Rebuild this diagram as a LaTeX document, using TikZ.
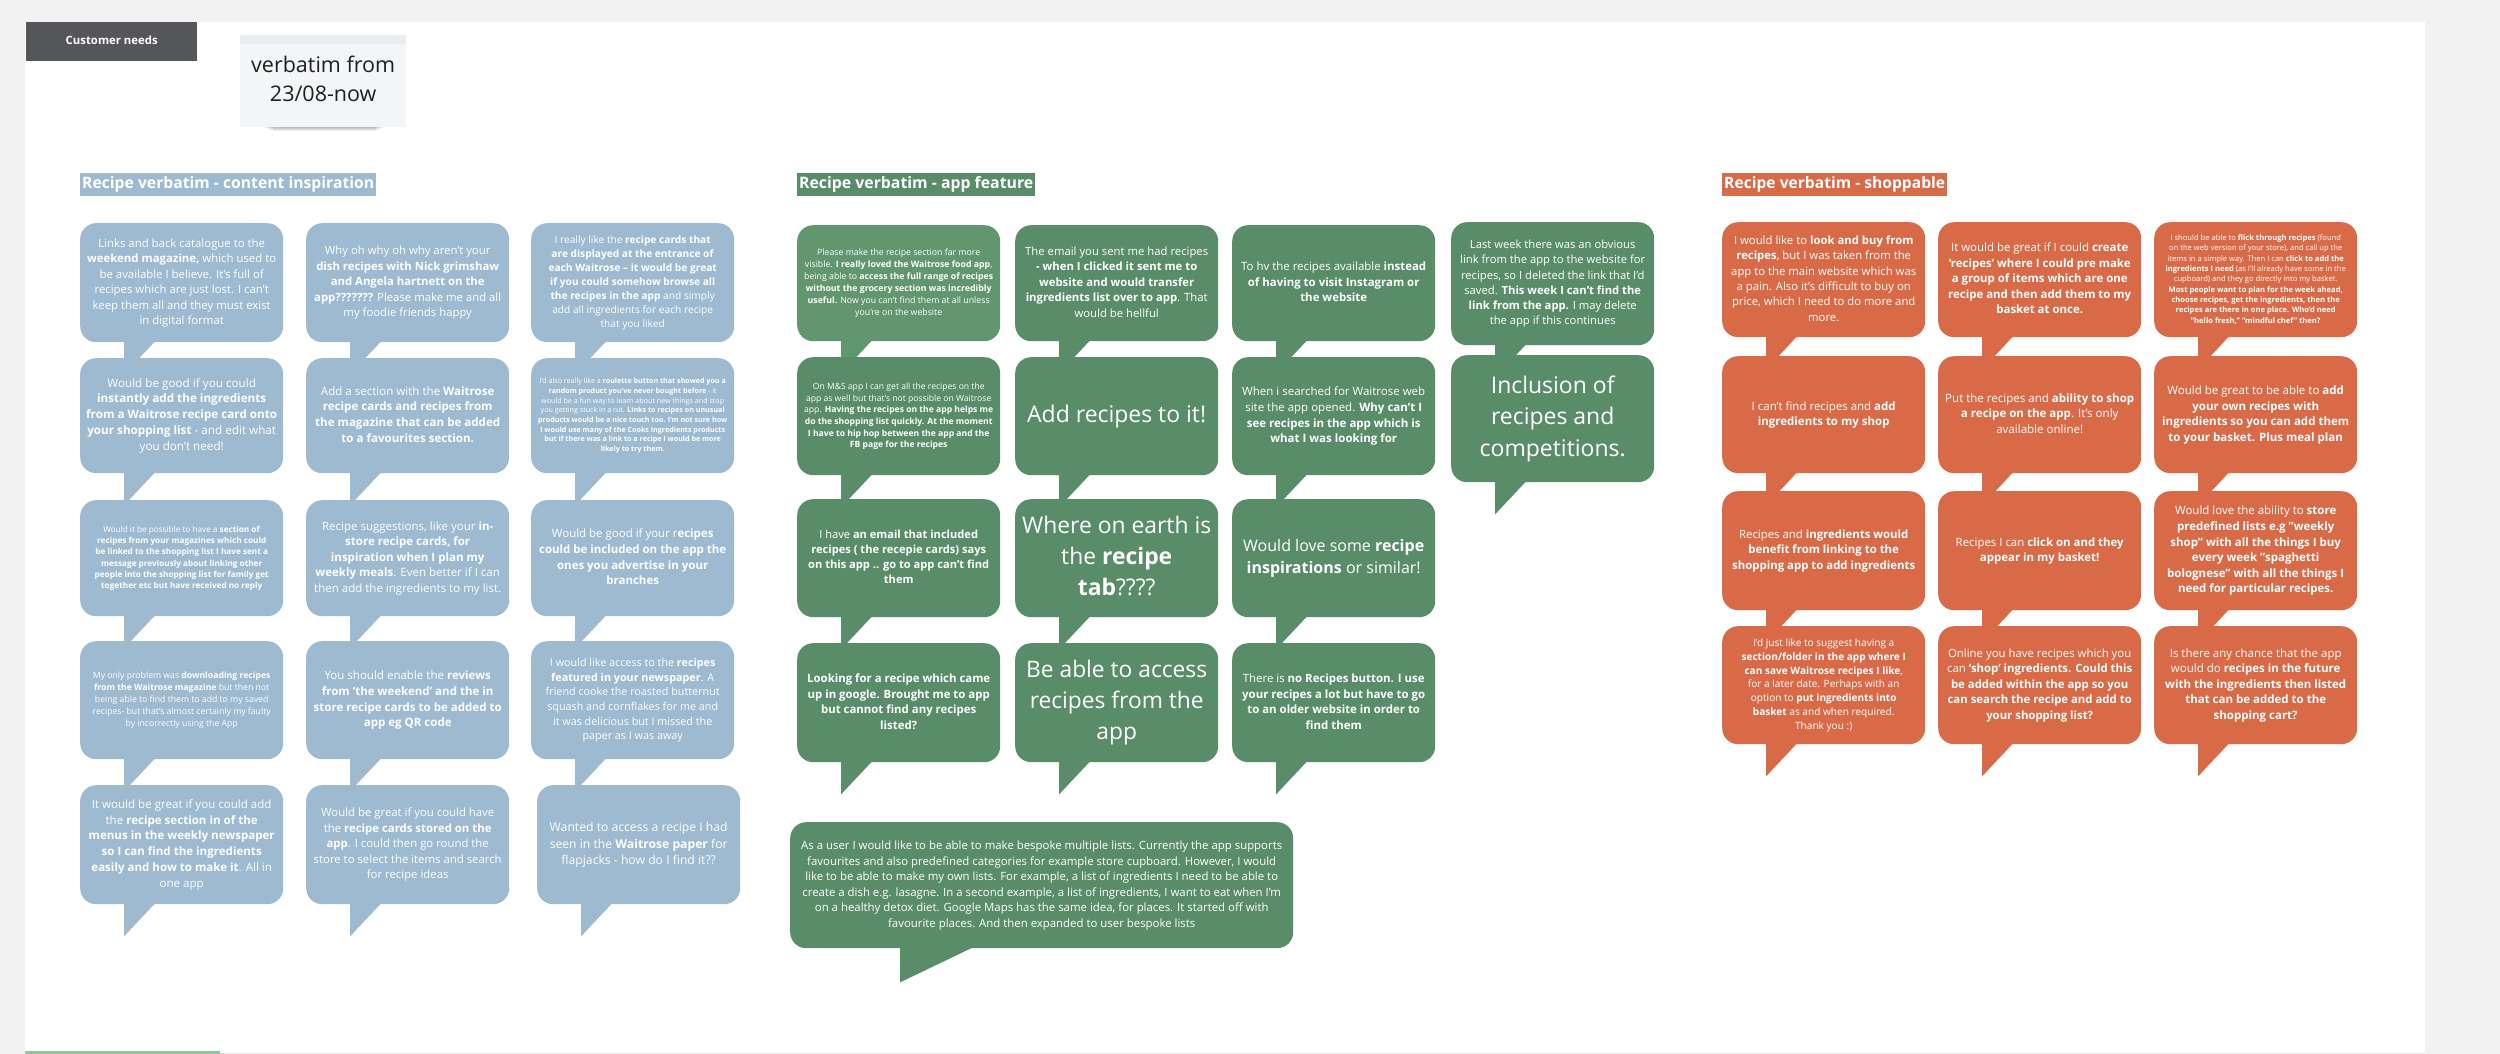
\documentclass[tikz,border=0pt]{standalone}
\usepackage{fontspec}
\setmainfont{Open Sans}
\usepackage{graphicx}

\definecolor{bblue}{HTML}{9EBAD0}
\definecolor{ggreen}{HTML}{598C68}
\definecolor{glight}{HTML}{62966F}
\definecolor{oorange}{HTML}{D96A48}
\definecolor{cdark}{HTML}{55565A}
\definecolor{pagegrey}{HTML}{F2F2F2}
\definecolor{notefill}{HTML}{F4F5F7}
\definecolor{lgreen}{HTML}{8DC89B}

\newsavebox\fitbox
\newdimen\fitwd
\newdimen\fitht
\newcommand\fitlines[3]{%
  \sbox\fitbox{\fontsize{10}{13.6}\selectfont\begin{tabular}{@{}c@{}}#3\end{tabular}}%
  \fitwd=\wd\fitbox\relax
  \fitht=\dimexpr\ht\fitbox+\dp\fitbox\relax
  \scalebox{\fpeval{min((#1)/\fitwd,(#2)/\fitht)}}{\usebox\fitbox}}
\newcommand\B[1]{\textbf{#1}}

\tikzset{
  bubble/.style={rounded corners=16pt, minimum width=203pt, anchor=north west, inner sep=0pt, text=white},
  hdr/.style={anchor=west, inner xsep=2pt, inner ysep=0pt, minimum height=23pt, text=white},
}
\newcommand\bub[7]{%
  \node[bubble, fill=#5, minimum height=#4pt] (#1) at (#2,#3) {\fitlines{#6}{#4-22}{#7}};
  \fill[#5] ([xshift=44pt,yshift=2pt]#1.south west) -- ++(32pt,0pt) -- ++(-32pt,-34pt) -- cycle;}

\begin{document}
\begin{tikzpicture}[x=1pt,y=-1pt]
\useasboundingbox (0,0) rectangle (2500,1054);
\fill[pagegrey] (0,0) rectangle (2500,1054);
\fill[white] (25,22) rectangle (2425,1054);
\draw[line width=2.5pt, lgreen] (25,1052.5) -- (220,1052.5);
\draw[line width=1pt, black!12] (220,1053) -- (2425,1053);

% title box
\node[fill=cdark, minimum width=171pt, minimum height=39pt, anchor=north west, inner sep=0pt, text=white] (cn) at (26,22) {\fitlines{92}{20}{\B{Customer needs}}};

% sticky note with shadow
\foreach \i in {0,...,9} {
  \fill[black, opacity=0.07] (250+\i*2.5, 116) rectangle (398-\i*2.5, 122+\i*1.0);
}
\node[fill=notefill, minimum width=166pt, minimum height=92pt, anchor=north west, inner sep=0pt, text=black!88] (note) at (240,35) {\fitlines{144}{70}{verbatim from\\23/08-now}};
\fill[black, opacity=0.035] (240,35) rectangle (406,44);

% headers
\node[hdr, fill=bblue] (h1) at (80,184.5) {\fitlines{292}{30}{\B{Recipe verbatim - content inspiration}}};
\node[hdr, fill=ggreen] (h2) at (797,184.5) {\fitlines{234}{30}{\B{Recipe verbatim - app feature}}};
\node[hdr, fill=oorange] (h3) at (1722,184.5) {\fitlines{221}{30}{\B{Recipe verbatim - shoppable}}};

% ---------- blue column 1
\bub{b11}{80}{223}{119}{bblue}{189}{Links and back catalogue to the\\ \B{weekend magazine,} which used to\\ be available I believe. It's full of\\ recipes which are just lost. I can't\\ keep them all and they must exist\\ in digital format}
\bub{b12}{80}{358}{115}{bblue}{191}{Would be good if you could\\ \B{instantly add the ingredients}\\ \B{from a Waitrose recipe card onto}\\ \B{your shopping list} - and edit what\\ you don’t need!}
\bub{b13}{80}{500}{116}{bblue}{174}{Would it be possible to have a \B{section of}\\ \B{recipes from your magazines which could}\\ \B{be linked to the shopping list I have sent a}\\ \B{message previously about linking other}\\ \B{people into the shopping list for family get}\\ \B{together etc but have received no reply}}
\bub{b14}{80}{641}{118}{bblue}{178}{My only problem was \B{downloading recipes}\\ \B{from the Waitrose magazine} but then not\\ being able to find them to add to my saved\\ recipes- but that’s almost certainly my faulty\\ by incorrectly using the App}
\bub{b15}{80}{785}{119}{bblue}{186}{It would be great if you could add\\ the \B{recipe section in of the}\\ \B{menus in the weekly newspaper}\\ \B{so I can find the ingredients}\\ \B{easily and how to make it}. All in\\ one app}

% ---------- blue column 2
\bub{b21}{306}{223}{119}{bblue}{187}{Why oh why oh why aren’t your\\ \B{dish recipes with Nick grimshaw}\\ \B{and Angela hartnett on the}\\ \B{app???????} Please make me and all\\ my foodie friends happy}
\bub{b22}{306}{358}{115}{bblue}{185}{Add a section with the \B{Waitrose}\\ \B{recipe cards and recipes from}\\ \B{the magazine that can be added}\\ \B{to a favourites section.}}
\bub{b23}{306}{500}{116}{bblue}{187}{Recipe suggestions, like your \B{in-}\\ \B{store recipe cards, for}\\ \B{inspiration when I plan my}\\ \B{weekly meals}. Even better if I can\\ then add the ingredients to my list.}
\bub{b24}{306}{641}{118}{bblue}{188}{You should enable the \B{reviews}\\ \B{from ‘the weekend’ and the in}\\ \B{store recipe cards to be added to}\\ \B{app eg QR code}}
\bub{b25}{306}{785}{119}{bblue}{188}{Would be great if you could have\\ the \B{recipe cards stored on the}\\ \B{app}. I could then go round the\\ store to select the items and search\\ for recipe ideas}

% ---------- blue column 3
\bub{b31}{531}{223}{119}{bblue}{189}{I really like the \B{recipe cards that}\\ \B{are displayed at the entrance of}\\ \B{each Waitrose – it would be great}\\ \B{if you could somehow browse all}\\ \B{the recipes in the app} and simply\\ add all ingredients for each recipe\\ that you liked}
\bub{b32}{531}{358}{115}{bblue}{189}{I'd also really like a \B{roulette button that showed you a}\\ \B{random product you've never bought before} - it\\ would be a fun way to learn about new things and stop\\ you getting stuck in a rut. \B{Links to recipes on unusual}\\ \B{products would be a nice touch too. I'm not sure how}\\ \B{I would use many of the Cooks Ingredients products}\\ \B{but if there was a link to a recipe I would be more}\\ \B{likely to try them.}}
\bub{b33}{531}{500}{116}{bblue}{187}{Would be good if your r\B{ecipes}\\ \B{could be included on the app the}\\ \B{ones you advertise in your}\\ \B{branches}}
\bub{b34}{531}{641}{118}{bblue}{174}{I would like access to the \B{recipes}\\ \B{featured in your newspaper}. A\\ friend cooke the roasted butternut\\ squash and cornflakes for me and\\ it was delicious but I missed the\\ paper as I was away}
\bub{b35}{537}{785}{119}{bblue}{178}{Wanted to access a recipe I had\\ seen in the \B{Waitrose paper} for\\ flapjacks - how do I find it??}

% ---------- green column 1
\bub{g11}{797}{225}{116}{glight}{189}{Please make the recipe section far more\\ visible. \B{I really loved the Waitrose food app},\\ being able to \B{access the full range of recipes}\\ \B{without the grocery section was incredibly}\\ \B{useful.} Now you can't find them at all unless\\ you're on the website}
\bub{g12}{797}{357}{118}{ggreen}{189}{On M\&S app I can get all the recipes on the\\ app as well but that's not possible on Waitrose\\ app. \B{Having the recipes on the app helps me}\\ \B{do the shopping list quickly. At the moment}\\ \B{I have to hip hop between the app and the}\\ \B{FB page for the recipes}}
\bub{g13}{797}{499}{118}{ggreen}{181}{I have \B{an email that included}\\ \B{recipes ( the recepie cards) says}\\ \B{on this app .. go to app can’t find}\\ \B{them}}
\bub{g14}{797}{643}{119}{ggreen}{183}{\B{Looking for a recipe which came}\\ \B{up in google. Brought me to app}\\ \B{but cannot find any recipes}\\ \B{listed?}}

% ---------- green column 2
\bub{g21}{1015}{225}{116}{ggreen}{183}{The email you sent me had recipes\\ \B{- when I clicked it sent me to}\\ \B{website and would transfer}\\ \B{ingredients list over to app}. That\\ would be hellful}
\bub{g22}{1015}{357}{118}{ggreen}{179}{Add recipes to it!}
\bub{g23}{1015}{499}{118}{ggreen}{189}{Where on earth is\\ the \B{recipe}\\ \B{tab}????}
\bub{g24}{1015}{643}{119}{ggreen}{181}{Be able to access\\ recipes from the\\ app}

% ---------- green column 3
\bub{g31}{1232}{225}{116}{ggreen}{185}{To hv the recipes available \B{instead}\\ \B{of having to visit Instagram or}\\ \B{the website}}
\bub{g32}{1232}{357}{118}{ggreen}{183}{When i searched for Waitrose web\\ site the app opened. \B{Why can't I}\\ \B{see recipes in the app which is}\\ \B{what I was looking for}}
\bub{g33}{1232}{499}{118}{ggreen}{181}{Would love some \B{recipe}\\ \B{inspirations} or similar!}
\bub{g34}{1232}{643}{119}{ggreen}{183}{There is \B{no Recipes button. I use}\\ \B{your recipes a lot but have to go}\\ \B{to an older website in order to}\\ \B{find them}}

% ---------- green column 4
\bub{g41}{1451}{222}{123}{ggreen}{185}{Last week there was an obvious\\ link from the app to the website for\\ recipes, so I deleted the link that I'd\\ saved. \B{This week I can't find the}\\ \B{link from the app.} I may delete\\ the app if this continues}
\bub{g42}{1451}{355}{127}{ggreen}{146}{Inclusion of\\ recipes and\\ competitions.}

% ---------- wide green bubble
\node[bubble, fill=ggreen, minimum width=503pt, minimum height=126pt] (gw) at (790,822) {\fitlines{481}{104}{As a user I would like to be able to make bespoke multiple lists. Currently the app supports\\ favourites and also predefined categories for example store cupboard. However, I would\\ like to be able to make my own lists. For example, a list of ingredients I need to be able to\\ create a dish e.g. lasagne. In a second example, a list of ingredients, I want to eat when I’m\\ on a healthy detox diet. Google Maps has the same idea, for places. It started off with\\ favourite places. And then expanded to user bespoke lists}};
\fill[ggreen] ([xshift=110pt,yshift=2pt]gw.south west) -- ++(75pt,0pt) -- ++(-75pt,-36pt) -- cycle;

% ---------- orange column 1
\bub{o11}{1722}{222}{115}{oorange}{185}{I would like to \B{look and buy from}\\ \B{recipes}, but I was taken from the\\ app to the main website which was\\ a pain. Also it’s difficult to buy on\\ price, which I need to do more and\\ more.}
\bub{o12}{1722}{356}{117}{oorange}{144}{I can't find recipes and \B{add}\\ \B{ingredients to my shop}}
\bub{o13}{1722}{491}{119}{oorange}{183}{Recipes and \B{ingredients would}\\ \B{benefit from linking to the}\\ \B{shopping app to add ingredients}}
\bub{o14}{1722}{626}{118}{oorange}{187}{I’d just like to suggest having a\\ \B{section/folder in the app where I}\\ \B{can save Waitrose recipes I like},\\ for a later date. Perhaps with an\\ option to \B{put ingredients into}\\ \B{basket} as and when required.\\ Thank you :)}

% ---------- orange column 2
\bub{o21}{1938}{222}{115}{oorange}{183}{It would be great if I could \B{create}\\ \B{‘recipes’ where I could pre make}\\ \B{a group of items which are one}\\ \B{recipe and then add them to my}\\ \B{basket at once.}}
\bub{o22}{1938}{356}{117}{oorange}{189}{Put the recipes and \B{ability to shop}\\ \B{a recipe on the app}. It’s only\\ available online!}
\bub{o23}{1938}{491}{119}{oorange}{168}{Recipes I can \B{click on and they}\\ \B{appear in my basket!}}
\bub{o24}{1938}{626}{118}{oorange}{185}{Online you have recipes which you\\ can \B{‘shop’ ingredients. Could this}\\ \B{be added within the app so you}\\ \B{can search the recipe and add to}\\ \B{your shopping list?}}

% ---------- orange column 3
\bub{o31}{2154}{222}{115}{oorange}{181}{I should be able to \B{flick through recipes} (found\\ on the web version of your store), and call up the\\ items in a simple way. Then I can \B{click to add the}\\ \B{ingredients I need} (as I’ll already have some in the\\ cupboard) and they go directly into my basket.\\ \B{Most people want to plan for the week ahead,}\\ \B{choose recipes, get the ingredients, then the}\\ \B{recipes are there in one place. Who’d need}\\ \B{“hello fresh,” “mindful chef” then?}}
\bub{o32}{2154}{356}{117}{oorange}{187}{Would be great to be able to \B{add}\\ \B{your own recipes with}\\ \B{ingredients so you can add them}\\ \B{to your basket. Plus meal plan}}
\bub{o33}{2154}{491}{119}{oorange}{177}{Would love the ability to \B{store}\\ \B{predefined lists e.g "weekly}\\ \B{shop" with all the things I buy}\\ \B{every week "spaghetti}\\ \B{bolognese" with all the things I}\\ \B{need for particular recipes.}}
\bub{o34}{2154}{626}{118}{oorange}{181}{Is there any chance that the app\\ would do \B{recipes in the future}\\ \B{with the ingredients then listed}\\ \B{that can be added to the}\\ \B{shopping cart?}}
\end{tikzpicture}
\end{document}
